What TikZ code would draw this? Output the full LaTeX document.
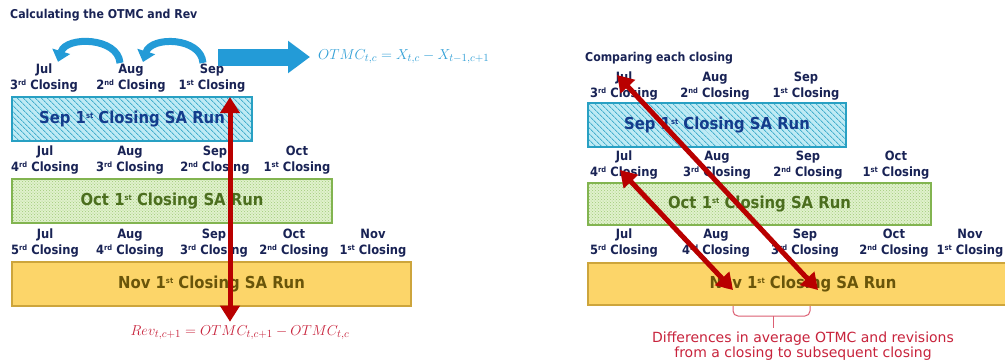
\documentclass[tikz,border=0pt]{standalone}
\usepackage{fontspec}
\usepackage{tikz}
\usetikzlibrary{
  positioning,
  arrows.meta,
  patterns,
  patterns.meta,
  calc
}
\newfontfamily\lblfont[FakeStretch=0.9]{DejaVu Sans}
\newfontfamily\notefont{DejaVu Sans}
\newcommand{\supr}[1]{\raisebox{0.55ex}{\fontsize{7.5}{8}\selectfont #1}}

\definecolor{navy}{RGB}{25,35,85}
\definecolor{arcblue}{RGB}{35,155,215}
\definecolor{otmcblue}{RGB}{50,160,215}
\definecolor{revred}{RGB}{200,35,60}
\definecolor{darrow}{RGB}{185,0,0}
\definecolor{sepfill}{RGB}{190,234,244}
\definecolor{sepline}{RGB}{70,175,205}
\definecolor{sepedge}{RGB}{40,160,195}
\definecolor{septext}{RGB}{20,60,140}
\definecolor{octfill}{RGB}{224,241,204}
\definecolor{octdots}{RGB}{160,202,120}
\definecolor{octedge}{RGB}{130,180,80}
\definecolor{octtext}{RGB}{75,110,30}
\definecolor{novfill}{RGB}{252,213,105}
\definecolor{novedge}{RGB}{205,165,60}
\definecolor{novtext}{RGB}{105,85,10}
\definecolor{bracered}{RGB}{220,95,115}

\begin{document}
\begin{tikzpicture}[
    x=1pt, y=-1pt,
    heading/.style={font=\lblfont\bfseries\fontsize{12.2}{14}\selectfont, text=navy, inner sep=0pt},
    month/.style={font=\lblfont\bfseries\fontsize{12.8}{15.5}\selectfont, text=navy, align=center, inner sep=0pt},
    run/.style={line width=1.8pt, minimum height=44pt, inner sep=0pt, font=\lblfont\bfseries\fontsize{16.5}{18}\selectfont},
    seprun/.style={run, draw=sepedge, preaction={fill=sepfill}, pattern={Lines[angle=-45, distance=4pt, line width=1pt]}, pattern color=sepline, text=septext},
    octrun/.style={run, draw=octedge, preaction={fill=octfill}, pattern=crosshatch dots, pattern color=octdots, text=octtext},
    novrun/.style={run, draw=novedge, fill=novfill, text=novtext},
    formula/.style={font=\fontsize{15.5}{18}\selectfont, inner sep=0pt},
    curvy/.style={arcblue, line width=7pt, -{Triangle[width=18pt, length=11pt]}},
    blockarrow/.style={arcblue, line width=17pt, -{Triangle[width=31pt, length=22pt]}},
    redarrow/.style={darrow, line width=5pt, {Triangle[width=19pt, length=16pt]}-{Triangle[width=19pt, length=16pt]}},
    bracel/.style={bracered, line width=1pt, rounded corners=5pt}
]
    \fill[white] (0,0) rectangle (1005,360);
    \useasboundingbox (0,0) rectangle (1005,360);

    % ---------------- left: calculating the OTMC and Rev
    \node[heading, anchor=west] (ltitle) at (10,15) {Calculating the OTMC and Rev};

    \node[month] (ljul3) at (44,78) {Jul\\3\supr{rd} Closing};
    \node[month] (laug2) at (131,78) {Aug\\2\supr{nd} Closing};
    \node[month] (lsep1) at (212,78) {Sep\\1\supr{st} Closing};
    \node[seprun, minimum width=240pt] (lsep) at (132,119) {Sep 1\supr{st} Closing SA Run};

    \node[month] (ljul4) at (45,160) {Jul\\4\supr{rd} Closing};
    \node[month] (laug3) at (130,160) {Aug\\3\supr{rd} Closing};
    \node[month] (lsep2) at (215,160) {Sep\\2\supr{nd} Closing};
    \node[month] (loct1) at (297,160) {Oct\\1\supr{st} Closing};
    \node[octrun, minimum width=320pt] (loct) at (172,201) {Oct 1\supr{st} Closing SA Run};

    \node[month] (ljul5) at (45,243) {Jul\\5\supr{rd} Closing};
    \node[month] (laug4) at (130,243) {Aug\\4\supr{rd} Closing};
    \node[month] (lsep3) at (214,243) {Sep\\3\supr{rd} Closing};
    \node[month] (loct2) at (294,243) {Oct\\2\supr{nd} Closing};
    \node[month] (lnov1) at (373,243) {Nov\\1\supr{st} Closing};
    \node[novrun, minimum width=399pt] (lnov) at (211.5,284) {Nov 1\supr{st} Closing SA Run};

    % formulas
    \node[formula, text=otmcblue, anchor=west] (otmc) at (318,57) {$OTMC_{t,c}=X_{t,c}-X_{t-1,c+1}$};
    \node[formula, text=revred] (rev) at (240,333) {$Rev_{t,c+1}=OTMC_{t,c+1}-OTMC_{t,c}$};

    % blue arrows
    \draw[curvy] ($(laug2.north)+(-11,-1)$) .. controls +(-2,-26) and +(8,-26) .. ($(ljul3.north)+(14,-2)$);
    \draw[curvy] ($(lsep1.north)+(-9,-1)$) .. controls +(-2,-26) and +(8,-26) .. ($(laug2.north)+(12,-2)$);
    \coordinate (bigtail) at (218,57);
    \draw[blockarrow] (bigtail) -- ([xshift=-8pt]otmc.west);

    \coordinate (revtop) at (230,97);
    \draw[redarrow, shorten >=4pt] (revtop) -- (revtop |- rev.north);

    % ---------------- right: comparing each closing
    \node[heading, anchor=west] (rtitle) at (585,58) {Comparing each closing};

    \node[month] (rjul3) at (624,86) {Jul\\3\supr{rd} Closing};
    \node[month] (raug2) at (715,86) {Aug\\2\supr{nd} Closing};
    \node[month] (rsep1) at (806,86) {Sep\\1\supr{st} Closing};
    \node[seprun, minimum width=258pt] (rsep) at (717,125) {Sep 1\supr{st} Closing SA Run};

    \node[month] (rjul4) at (624,165) {Jul\\4\supr{rd} Closing};
    \node[month] (raug3) at (717,165) {Aug\\3\supr{rd} Closing};
    \node[month] (rsep2) at (808,165) {Sep\\2\supr{nd} Closing};
    \node[month] (roct1) at (896,165) {Oct\\1\supr{st} Closing};
    \node[octrun, minimum width=343pt, minimum height=42pt] (roct) at (759.5,204) {Oct 1\supr{st} Closing SA Run};

    \node[month] (rjul5) at (624,243) {Jul\\5\supr{rd} Closing};
    \node[month] (raug4) at (716,243) {Aug\\4\supr{rd} Closing};
    \node[month] (rsep3) at (805,243) {Sep\\3\supr{rd} Closing};
    \node[month] (roct2) at (894,243) {Oct\\2\supr{nd} Closing};
    \node[month] (rnov1) at (970,243) {Nov\\1\supr{st} Closing};
    \node[novrun, minimum width=430pt, minimum height=42pt] (rnov) at (803,284) {Nov 1\supr{st} Closing SA Run};

    % brace and note
    \draw[bracel] (733,306) |- (810,316) -- (810,306);
    \draw[bracered, line width=1pt] (773,316) -- (773,328);
    \node[font=\notefont\fontsize{14}{15.5}\selectfont, text=revred, align=center, inner sep=0pt] (note) at (803,346)
        {Differences in average OTMC and revisions\\from a closing to subsequent closing};

    % red arrows
    \coordinate (ajul3) at (617,75);
    \coordinate (anov3) at (818,290);
    \coordinate (ajul4) at (620,170);
    \coordinate (anov4) at (733,290);
    \draw[redarrow] (ajul3) -- (anov3);
    \draw[redarrow] (ajul4) -- (anov4);
\end{tikzpicture}
\end{document}
